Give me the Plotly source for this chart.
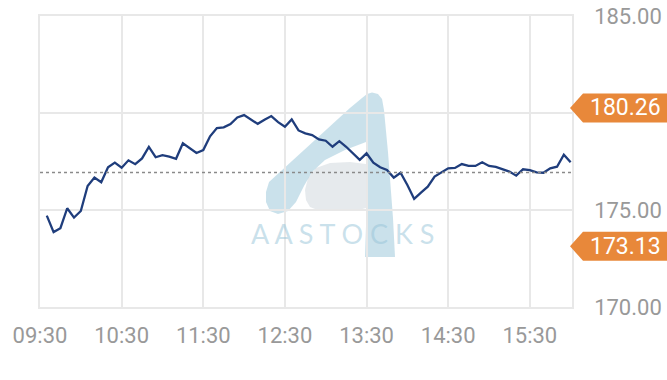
import plotly.graph_objects as go
import pandas as pd

# ---- data ----
times = pd.date_range("2024-01-02 09:35", "2024-01-02 16:00", freq="5min")
prices = [
    174.71, 173.86, 174.06, 175.09, 174.61, 174.95, 176.24, 176.67, 176.43, 177.20,
    177.44, 177.18, 177.56, 177.36, 177.66, 178.25, 177.72, 177.83, 177.75, 177.64,
    178.44, 178.18, 177.94, 178.09, 178.80, 179.22, 179.26, 179.43, 179.77, 179.89,
    179.67, 179.44, 179.65, 179.84, 179.53, 179.29, 179.67, 179.10, 178.95, 178.86,
    178.64, 178.57, 178.26, 178.55, 178.26, 177.92, 177.58, 177.92, 177.44, 177.20,
    177.06, 176.67, 176.92, 176.29, 175.57, 175.90, 176.20, 176.72, 176.94, 177.15,
    177.17, 177.37, 177.27, 177.27, 177.46, 177.27, 177.22, 177.11, 176.98, 176.77,
    177.10, 177.05, 176.94, 176.92, 177.15, 177.23, 177.85, 177.46,
]
prev_close = 176.93
day_high = 180.26
day_low = 173.13
x_ticks = ["2024-01-02 09:30", "2024-01-02 10:30", "2024-01-02 11:30", "2024-01-02 12:30",
           "2024-01-02 13:30", "2024-01-02 14:30", "2024-01-02 15:30"]
x_tick_labels = ["09:30", "10:30", "11:30", "12:30", "13:30", "14:30", "15:30"]
y_ticks = [170, 175, 180, 185]
# the 180.00 label sits under the orange day-high tag in the reference
y_tick_labels = ["170.00", "175.00", "", "185.00"]

# ---- layout geometry (pixels) ----
W, H = 667, 380
L, R, T, B = 40, 572, 16, 307

def P(x, y):
    return (x - L) / (R - L), (B - y) / (B - T)

def path(points):
    s = ""
    for i, (x, y) in enumerate(points):
        px, py = P(x, y)
        s += ("M" if i == 0 else "L") + f"{px:.4f},{py:.4f} "
    return s + "Z"

fig = go.Figure()
fig.add_trace(go.Scatter(
    x=times, y=prices, mode="lines",
    line=dict(color="#1f3d7c", width=2.3), hoverinfo="skip", showlegend=False,
))

shapes = []
wm_blue = "rgba(150,195,215,0.5)"
# gray inner blob of the watermark
shapes.append(dict(type="path", xref="paper", yref="paper", layer="below",
                   fillcolor="rgba(222,227,231,0.75)", line=dict(width=0),
                   path=path([(305, 190), (308, 178), (316, 168), (330, 163), (350, 162),
                              (366, 164), (366, 208), (355, 211), (320, 211), (310, 207),
                              (306, 200)])))
# watermark: big "A"
shapes.append(dict(type="path", xref="paper", yref="paper", layer="below",
                   fillcolor=wm_blue, line=dict(width=0),
                   path=path([(266, 192), (269, 182), (350, 108), (362, 98), (367, 94),
                              (372, 92.5), (378, 94), (382, 99), (384, 110), (388, 152),
                              (393, 218), (395, 257), (365, 257), (366.5, 212), (366, 142),
                              (345, 150), (325, 160), (312, 172), (304, 186), (296, 202),
                              (288, 211), (278, 214), (270, 211), (266, 202)])))
# previous close dotted line
shapes.append(dict(type="line", xref="paper", yref="y", x0=0, x1=1, y0=prev_close, y1=prev_close,
                   line=dict(color="#8a8a8a", width=1.5, dash="dot")))
# orange tags
for v in (day_high, day_low):
    shapes.append(dict(type="path", xref="paper", yref="y", xsizemode="pixel", ysizemode="pixel",
                       xanchor=1, yanchor=v, fillcolor="#e8883a", line=dict(width=0),
                       path="M -2,0 L 11,-14.5 L 100,-14.5 L 100,14.5 L 11,14.5 Z"))

annotations = [
    dict(text="A A S T O C K S", xref="paper", yref="paper", x=P(342, 233)[0], y=P(342, 233)[1],
         showarrow=False, font=dict(family="Lato", size=27, color="rgba(150,195,215,0.5)"),
         xanchor="center", yanchor="middle"),
]
for v in (day_high, day_low):
    annotations.append(dict(text=f"{v:.2f}", xref="paper", yref="y", x=1, y=v, xanchor="left",
                            yanchor="middle", xshift=16, showarrow=False,
                            font=dict(family="Roboto", size=23, color="white")))

fig.update_layout(
    width=W, height=H,
    margin=dict(l=L, r=W - R, t=T, b=H - B, pad=0, autoexpand=False),
    paper_bgcolor="white", plot_bgcolor="white",
    shapes=shapes, annotations=annotations,
    font=dict(family="Roboto", size=22, color="#999999"),
    xaxis=dict(range=["2024-01-02 09:30", "2024-01-02 16:01"], tickvals=x_ticks,
               ticktext=x_tick_labels, showgrid=True, gridcolor="#e8e8e8", gridwidth=1.5,
               zeroline=False, showline=True, linecolor="#e8e8e8", linewidth=1.5, mirror=True,
               ticks="", tickfont=dict(size=22, color="#999999"), ticklabelstandoff=8,
               automargin=False),
    yaxis=dict(range=[170, 185], tickvals=y_ticks, ticktext=y_tick_labels, side="right",
               showgrid=True, gridcolor="#e8e8e8", gridwidth=1.5, zeroline=False,
               showline=True, linecolor="#e8e8e8", linewidth=1.5, mirror=True, ticks="",
               tickfont=dict(size=22, color="#999999"), ticklabelstandoff=16,
               automargin=False),
)

fig.write_html("out.html")
